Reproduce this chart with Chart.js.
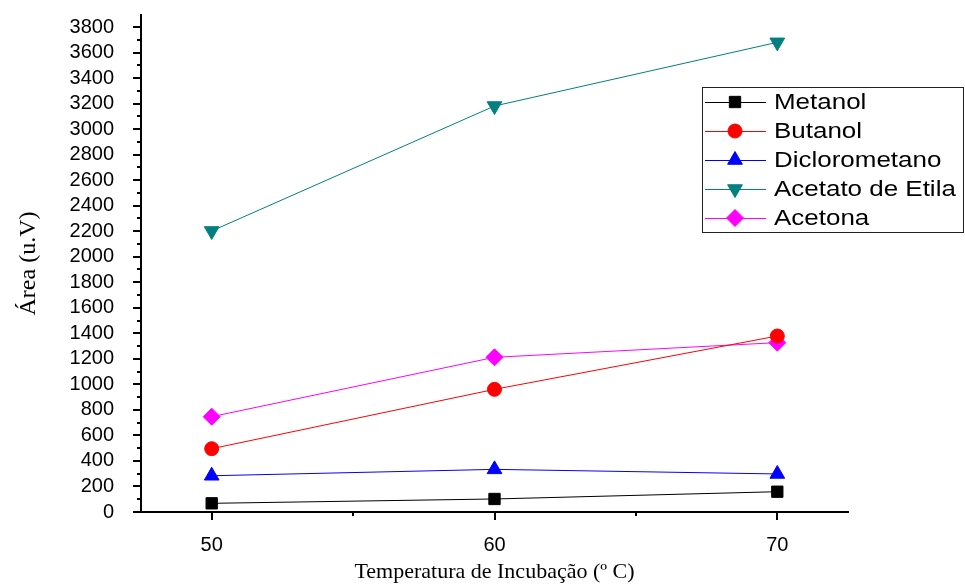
<!DOCTYPE html>
<html>
<head>
<meta charset="utf-8">
<script src="https://cdn.jsdelivr.net/npm/chart.js@4.4.0/dist/chart.umd.min.js"></script>
<style>
  html, body { margin: 0; padding: 0; background: #fff; }
</style>
</head>
<body>
<canvas id="grafico" width="965" height="585"></canvas>
<script>
// temperaturas de incubação (ºC) e áreas medidas (u.V)
const temperaturas = [50, 60, 70];
const metanol = [68, 102, 159];
const butanol = [496, 961, 1379];
const diclorometano = [284, 334, 298];
const acetatoEtila = [2202, 3181, 3680];
const acetona = [747, 1212, 1327];

const ticksX = [50, 60, 70];
const ticksY = [0, 200, 400, 600, 800, 1000, 1200, 1400, 1600, 1800,
                2000, 2200, 2400, 2600, 2800, 3000, 3200, 3400, 3600, 3800];

// marcas menores ficam no meio das maiores
const menores = arr => arr.slice(1).map((v, i) => (v + arr[i]) / 2);
const menoresX = menores(ticksX);
const menoresY = menores(ticksY);

const sans = '"Liberation Sans", Arial, sans-serif';
const serif = '"Liberation Serif", "Times New Roman", serif';

function serie(label, valores, cor, estilo, raio, rot) {
    return {
        label: label,
        data: temperaturas.map((t, i) => ({x: t, y: valores[i]})),
        borderColor: cor,
        backgroundColor: cor,
        pointBackgroundColor: cor,
        pointBorderColor: cor,
        borderWidth: 1,
        pointBorderWidth: 1,
        pointStyle: estilo,
        pointRadius: raio,
        pointRotation: rot || 0,
        tension: 0
    };
}

// marcas dos eixos (maiores e menores, para fora)
const marcasEixos = {
    id: 'marcasEixos',
    afterDraw(chart) {
        const {ctx, chartArea: a, scales: {x, y}} = chart;
        ctx.save();
        ctx.strokeStyle = '#000';
        ctx.lineWidth = 2;
        ctx.beginPath();
        ticksY.forEach(v => { const p = Math.round(y.getPixelForValue(v)); ctx.moveTo(a.left - 8, p); ctx.lineTo(a.left, p); });
        menoresY.forEach(v => { const p = Math.round(y.getPixelForValue(v)); ctx.moveTo(a.left - 4, p); ctx.lineTo(a.left, p); });
        ticksX.forEach(v => { const p = Math.round(x.getPixelForValue(v)); ctx.moveTo(p, a.bottom); ctx.lineTo(p, a.bottom + 8); });
        menoresX.forEach(v => { const p = Math.round(x.getPixelForValue(v)); ctx.moveTo(p, a.bottom); ctx.lineTo(p, a.bottom + 4); });
        ctx.stroke();
        ctx.restore();
    }
};

// legenda com caixa dentro da área do gráfico
const legendaCaixa = {
    id: 'legendaCaixa',
    afterDraw(chart) {
        const ctx = chart.ctx;
        const bx = 702, by = 87, bw = 261, bh = 145;
        ctx.save();
        ctx.fillStyle = '#fff';
        ctx.fillRect(bx, by, bw, bh);
        ctx.strokeStyle = '#222';
        ctx.lineWidth = 1;
        ctx.strokeRect(bx + 0.5, by + 0.5, bw, bh);
        chart.data.datasets.forEach((ds, i) => {
            const cy = 102 + i * 29;
            ctx.strokeStyle = ds.borderColor;
            ctx.lineWidth = 1;
            ctx.beginPath();
            ctx.moveTo(705, cy + 0.5);
            ctx.lineTo(766, cy + 0.5);
            ctx.stroke();
            ctx.fillStyle = ds.pointBackgroundColor;
            Chart.helpers.drawPoint(ctx, {
                pointStyle: ds.pointStyle,
                radius: ds.pointRadius,
                rotation: ds.pointRotation,
                borderWidth: 1
            }, 735, cy);
            ctx.save();
            ctx.translate(774, cy);
            ctx.scale(1.18, 1);
            ctx.fillStyle = '#000';
            ctx.font = '22px ' + sans;
            ctx.textBaseline = 'middle';
            ctx.fillText(ds.label, 0, 1);
            ctx.restore();
        });
        ctx.restore();
    }
};

new Chart(document.getElementById('grafico'), {
    type: 'line',
    data: {
        datasets: [
            serie('Metanol', metanol, '#000000', 'rect', 8),
            serie('Butanol', butanol, '#ff0000', 'circle', 7),
            serie('Diclorometano', diclorometano, '#0000ff', 'triangle', 8.5),
            serie('Acetato de Etila', acetatoEtila, '#008080', 'triangle', 8.5, 180),
            serie('Acetona', acetona, '#ff00ff', 'rectRot', 8.5)
        ]
    },
    options: {
        responsive: false,
        animation: false,
        devicePixelRatio: 1,
        layout: { padding: { left: 0, top: 15, right: 117, bottom: 0 } },
        plugins: {
            legend: { display: false },
            tooltip: { enabled: false }
        },
        scales: {
            x: {
                type: 'linear',
                min: 47.5,
                max: 72.5,
                afterBuildTicks: s => { s.ticks = ticksX.map(v => ({value: v})); },
                afterFit: s => { s.height = 73; s.paddingLeft = 0; s.paddingRight = 0; },
                grid: { display: false },
                border: { display: true, color: '#000', width: 2 },
                ticks: {
                    color: '#000', padding: 13, autoSkip: false, maxRotation: 0,
                    font: { family: sans, size: 20 },
                    callback: v => String(v)
                },
                title: {
                    display: true,
                    text: 'Temperatura de Incubação (º C)',
                    color: '#000',
                    font: { family: serif, size: 22 },
                    padding: { top: 0, bottom: 0 }
                }
            },
            y: {
                type: 'linear',
                min: 0,
                max: 3894,
                afterBuildTicks: s => { s.ticks = ticksY.map(v => ({value: v})); },
                afterFit: s => { s.width = 141; s.paddingTop = 0; s.paddingBottom = 0; },
                grid: { display: false },
                border: { display: true, color: '#000', width: 2 },
                ticks: {
                    color: '#000', padding: 19, autoSkip: false,
                    font: { family: sans, size: 20 },
                    callback: v => String(v)
                },
                title: {
                    display: true,
                    text: 'Área (u.V)',
                    color: '#000',
                    font: { family: serif, size: 24 },
                    padding: { top: 14, bottom: 0 }
                }
            }
        }
    },
    plugins: [marcasEixos, legendaCaixa]
});
</script>
</body>
</html>
